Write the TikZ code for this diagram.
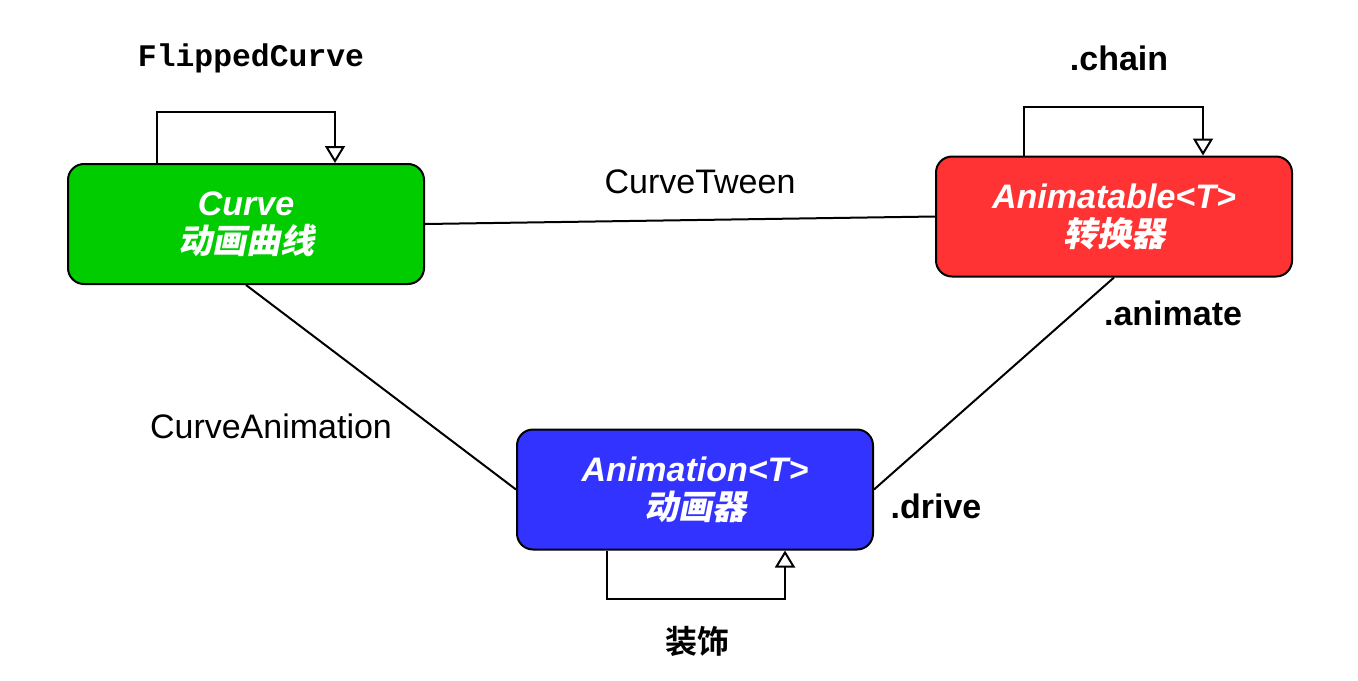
\documentclass[tikz,border=0pt]{standalone}
\usepackage{fontspec}
\setmainfont{Liberation Sans}
\newfontfamily\codefont{Liberation Mono}
\newfontfamily\cjkbold{Noto Sans CJK SC Bold}
\newfontfamily\cjkslant{Noto Sans CJK SC Bold}[FakeSlant=0.2]
\usetikzlibrary{calc,arrows.meta}
\definecolor{curvegreen}{RGB}{0,204,0}
\definecolor{tweenred}{RGB}{255,51,51}
\definecolor{animblue}{RGB}{51,51,255}
\tikzset{
	classbox/.style={draw=black, line width=1pt, rounded corners=8pt, minimum width=178pt, minimum height=60pt, align=center, text=white, font=\fontsize{17}{19}\selectfont\bfseries\itshape},
	link/.style={line width=1pt, color=black},
	selfloop/.style={line width=1pt, color=black, -{Triangle[open, width=10pt, length=8.5pt, fill=white]}},
	lbl/.style={font=\fontsize{17}{20}\selectfont},
	boldlbl/.style={font=\fontsize{17}{20}\selectfont\bfseries},
	cjklbl/.style={font=\fontsize{16}{20}\selectfont\cjkbold}
}

\begin{document}
\begin{tikzpicture}[x=0.5pt, y=-0.5pt]
		%%%%% START %%%%%
		\useasboundingbox (0, 0) rectangle (1358, 680);
		
		\node[classbox, fill=curvegreen] (curve) at (246, 224) {Curve\\{\cjkslant 动画曲线}};
		\node[classbox, fill=tweenred] (animatable) at (1114, 216.5) {Animatable<T>\\{\cjkslant 转换器}};
		\node[classbox, fill=animblue] (animation) at (695, 489.5) {Animation<T>\\{\cjkslant 动画器}};
		
		\draw[link] (curve.east) -- (animatable.west);
		\draw[link] (curve.south) -- (animation.west);
		\draw[link] (animatable.south) -- (animation.east);
		
		\draw[selfloop] ($(curve.north)+(-89, 0)$) -- ++(0, -51) -| ($(curve.north)+(89, 0)$);
		\draw[selfloop] ($(animatable.north)+(-90, 0)$) -- ++(0, -49) -| ($(animatable.north)+(89, 0)$);
		\draw[selfloop] ($(animation.south)+(-88, 0)$) -- ++(0, 48) -| ($(animation.south)+(90, 0)$);
		
		\node[font=\fontsize{15.7}{18}\selectfont\codefont\bfseries] (flippedlbl) at (251, 58) {FlippedCurve};
		\node[boldlbl] (chainlbl) at (1119, 58) {.chain};
		\node[lbl] (tweenlbl) at (700, 182) {CurveTween};
		\node[lbl] (curveanimlbl) at (271, 426) {CurveAnimation};
		\node[boldlbl] (animatelbl) at (1173, 313) {.animate};
		\node[boldlbl] (drivelbl) at (936, 506) {.drive};
		\node[cjklbl] (decolbl) at (697, 641) {装饰};
		
		%%%%% END %%%%%
	\end{tikzpicture}
\end{document}
